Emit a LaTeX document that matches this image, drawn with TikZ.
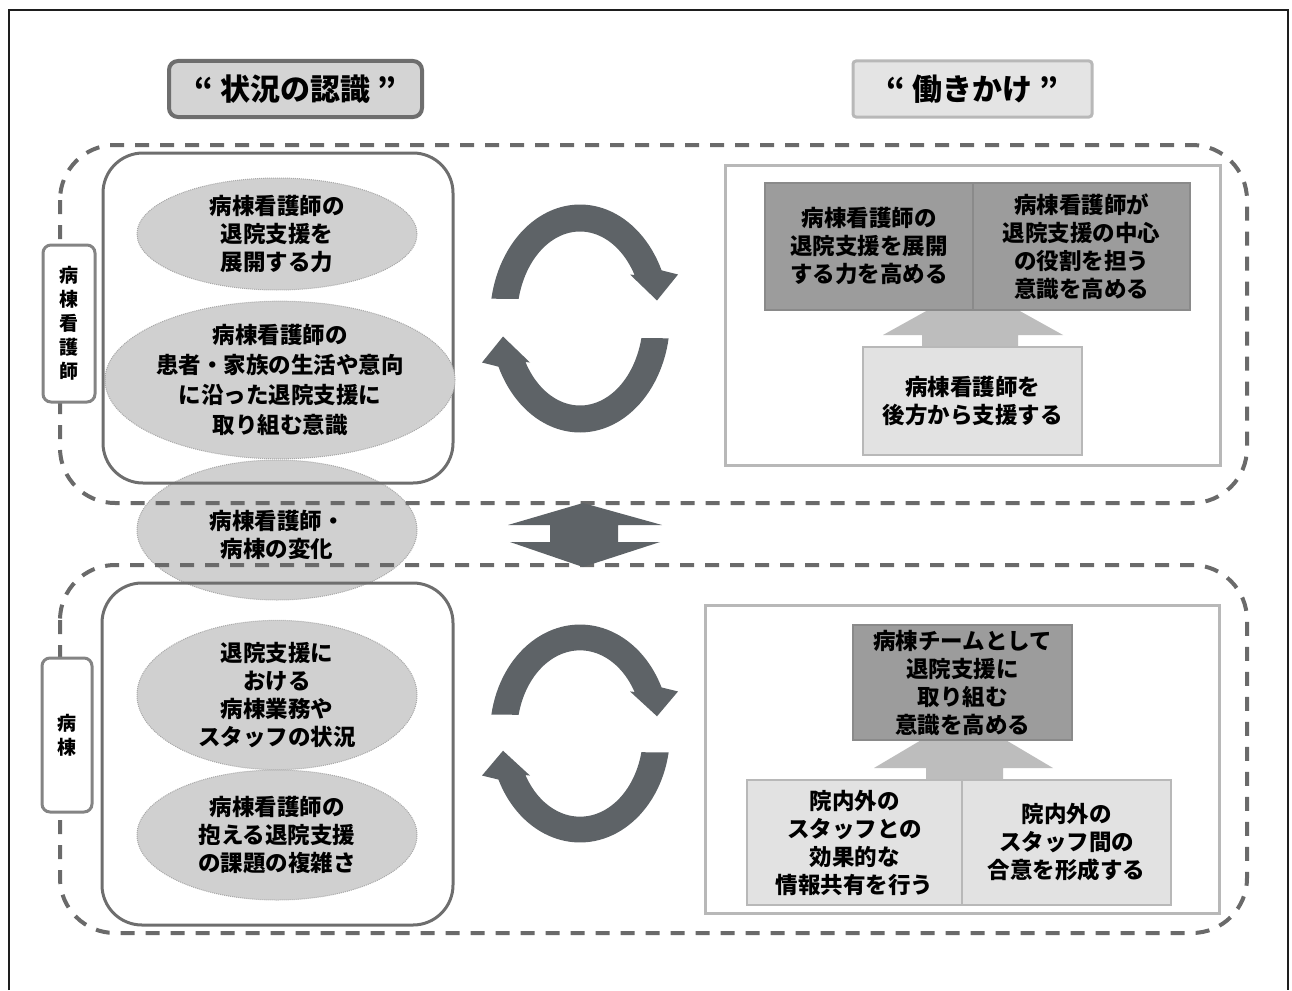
\documentclass[tikz,border=0pt]{standalone}
\usepackage{fontspec}
\setmainfont{Noto Sans CJK JP}
\usetikzlibrary{shapes.geometric}
\definecolor{frameline}{HTML}{1E1E1E}
\definecolor{dashcol}{HTML}{6A6A6A}
\definecolor{boxline}{HTML}{6E6E6E}
\definecolor{ovalfill}{HTML}{D0D0D0}
\definecolor{ovalline}{HTML}{A8A8A8}
\definecolor{cyccol}{HTML}{5E6367}
\definecolor{darkbox}{HTML}{9C9C9C}
\definecolor{darkboxline}{HTML}{8A8A8A}
\definecolor{lightbox}{HTML}{E2E2E2}
\definecolor{lightboxline}{HTML}{B8B8B8}
\definecolor{upcol}{HTML}{BDBDBD}
\definecolor{titlefillA}{HTML}{D4D4D4}
\definecolor{titlefillB}{HTML}{E4E4E4}
\newcommand\jptext{\bfseries\fontsize{22.5}{28}\selectfont}
\newcommand\cycpath{plot[domain=170:25,samples=50] ({90*cos(\x)},{-114*sin(\x)}) -- (98,-44) -- (77,-18) -- (50,-44) -- plot[domain=30:167,samples=50] ({63*cos(\x)},{-87*sin(\x)}) -- cycle}
\newcommand\cyclepair[3]{%
  \begin{scope}[shift={(#1,#2)},yscale=#3]
    \fill[cyccol] \cycpath;
    \fill[cyccol,rotate=180] \cycpath;
  \end{scope}}
\tikzset{
  dashframe/.style={draw=dashcol,line width=4pt,dash pattern=on 14pt off 11pt,rounded corners=55pt},
  lbox/.style={draw=boxline,line width=3pt,rounded corners=40pt,inner sep=0pt},
  oval/.style={ellipse,draw=ovalline,densely dotted,line width=1pt,fill=ovalfill,inner sep=0pt,align=center,font=\jptext},
  sidelabel/.style={draw=boxline!85,line width=3pt,rounded corners=8pt,fill=white,inner sep=0pt,align=center,font=\bfseries\fontsize{19}{24}\selectfont},
  outerbox/.style={draw=lightboxline,line width=3pt,fill=white,inner sep=0pt},
  darkcell/.style={draw=darkboxline,line width=2pt,fill=darkbox,inner sep=0pt,align=center,font=\jptext},
  lightcell/.style={draw=lightboxline,line width=2pt,fill=lightbox,inner sep=0pt,align=center,font=\jptext},
  titleA/.style={draw=boxline,line width=4pt,rounded corners=9pt,fill=titlefillA,inner sep=0pt,font=\bfseries\fontsize{30}{34}\selectfont},
  titleB/.style={draw=lightboxline,line width=3pt,rounded corners=3pt,fill=titlefillB,inner sep=0pt,font=\bfseries\fontsize{30}{34}\selectfont},
}
\begin{document}
\begin{tikzpicture}[x=1pt,y=-1pt]
\useasboundingbox (0,0) rectangle (1292,990);
% outer frame
\draw[frameline,line width=2.5pt] (9,990) -- (9,10) -- (1288,10) -- (1288,990);
% middle ellipse (behind)
\node[oval,minimum width=280pt,minimum height=140pt] (em) at (277,530) {};
\node[font=\jptext,align=center] (emt) at (277,535) {病棟看護師・\\病棟の変化};
% dashed groups
\draw[dashframe] (60,145) rectangle (1247,503);
\draw[dashframe] (60,565) rectangle (1247,933);
% left rounded boxes
\node[lbox,minimum width=350pt,minimum height=330pt] (ulbox) at (278,318) {};
\node[lbox,minimum width=351pt,minimum height=342pt] (llbox) at (277.5,754) {};
% ellipses
\node[oval,minimum width=280pt,minimum height=112pt] (e1) at (277,234) {病棟看護師の\\退院支援を\\展開する力};
\node[oval,minimum width=280pt,minimum height=145pt,font=\bfseries\fontsize{22.5}{30}\selectfont] (e2) at (280,380) {病棟看護師の\\患者・家族の生活や意向\\に沿った退院支援に\\取り組む意識};
\node[oval,minimum width=280pt,minimum height=136pt] (e3) at (277,695) {退院支援に\\おける\\病棟業務や\\スタッフの状況};
\node[oval,minimum width=280pt,minimum height=130pt] (e4) at (277,835) {病棟看護師の\\抱える退院支援\\の課題の複雑さ};
% side labels
\node[sidelabel,minimum width=52pt,minimum height=157pt] (lab1) at (69,323.5) {病\\棟\\看\\護\\師};
\node[sidelabel,minimum width=50pt,minimum height=154pt] (lab2) at (67,735) {病\\棟};
% titles
\node[titleA,minimum width=253pt,minimum height=56pt] (t1) at (295.5,89) {“ 状況の認識 ”};
\node[titleB,minimum width=239pt,minimum height=56pt] (t2) at (972.5,89) {“ 働きかけ ”};
% cycle arrows
\cyclepair{580}{318.5}{1}
\cyclepair{580}{733.5}{0.956}
% double arrow
\fill[cyccol] (583,503) -- (662,525) -- (618,525) -- (618,542) -- (660,542) -- (583,567) -- (510,542) -- (550,542) -- (550,525) -- (508,525) -- cycle;
% right upper block
\node[outerbox,minimum width=495pt,minimum height=300pt] (urbox) at (972.5,315) {};
\fill[upcol] (973,285) -- (1063,335) -- (1018,335) -- (1018,348) -- (922,348) -- (922,335) -- (883,335) -- cycle;
\node[darkcell,minimum width=208pt,minimum height=127pt] (ur1) at (869,246.5) {病棟看護師の\\退院支援を展開\\する力を高める};
\node[darkcell,minimum width=217pt,minimum height=127pt] (ur2) at (1081.5,246.5) {病棟看護師が\\退院支援の中心\\の役割を担う\\意識を高める};
\node[lightcell,minimum width=219pt,minimum height=108pt] (ur3) at (972.5,401) {病棟看護師を\\後方から支援する};
% right lower block
\node[outerbox,minimum width=514pt,minimum height=308pt] (lrbox) at (962,759) {};
\fill[upcol] (963.5,715) -- (1053,768) -- (1003,768) -- (1003,781) -- (926,781) -- (926,768) -- (874,768) -- cycle;
\node[darkcell,minimum width=219pt,minimum height=115pt] (lr1) at (962.5,682.5) {病棟チームとして\\退院支援に\\取り組む\\意識を高める};
\node[lightcell,minimum width=215pt,minimum height=125pt] (lr2) at (854.5,842.5) {院内外の\\スタッフとの\\効果的な\\情報共有を行う};
\node[lightcell,minimum width=209pt,minimum height=125pt] (lr3) at (1066.5,842.5) {院内外の\\スタッフ間の\\合意を形成する};
\end{tikzpicture}
\end{document}
